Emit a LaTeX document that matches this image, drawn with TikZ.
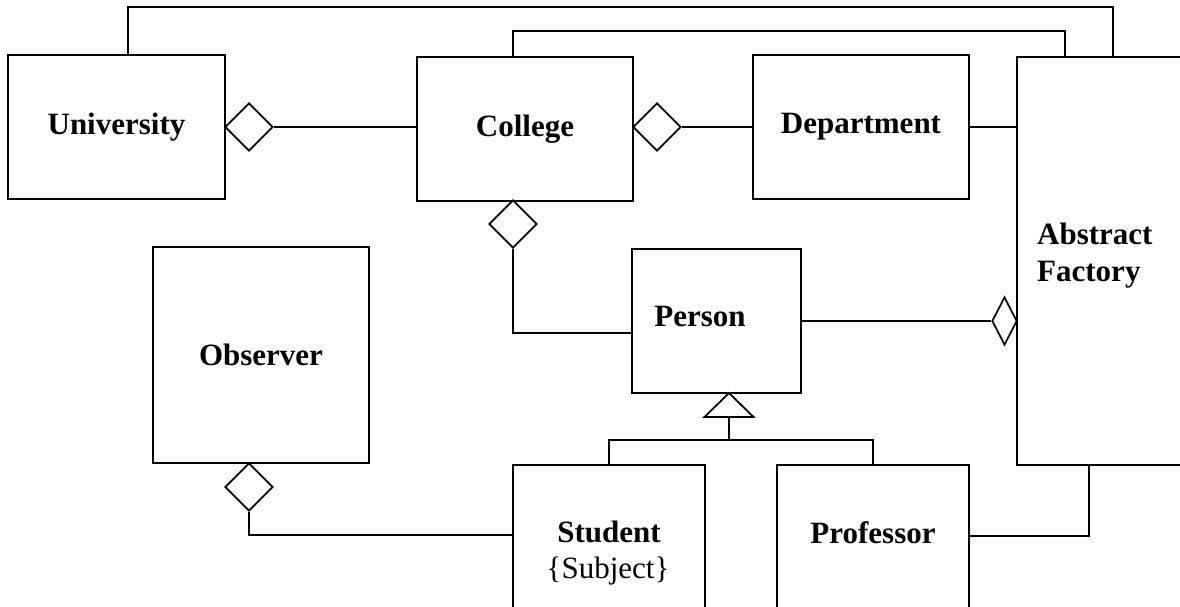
\documentclass[tikz,border=0pt]{standalone}
\usepackage{fontspec}
\setmainfont{Liberation Serif}
\usetikzlibrary{shapes.geometric}
\tikzset{
  cls/.style={draw, line width=2pt, rectangle, inner sep=0pt, fill=white,
    font=\fontsize{31}{37}\selectfont\bfseries},
  agg/.style={draw, line width=1.7pt, diamond, inner sep=0pt, fill=white,
    minimum width=48pt, minimum height=48pt},
  conn/.style={line width=1.8pt},
  lbl/.style={inner sep=0pt, anchor=base, font=\fontsize{31}{37}\selectfont\bfseries},
}
\begin{document}
\begin{tikzpicture}[x=1pt,y=-1pt]
\useasboundingbox (0,0) rectangle (1180,607);
\clip (0,0) rectangle (1180,607);
% classes
\node[cls, minimum width=217pt, minimum height=144pt] (University) at (116.5,127) {University};
\node[cls, minimum width=216pt, minimum height=144pt] (College) at (525,129) {College};
\node[cls, minimum width=216pt, minimum height=144pt] (Department) at (861,127) {Department};
\node[cls, minimum width=183pt, minimum height=408pt] (AF) at (1108.5,261) {};
\node[cls, minimum width=169pt, minimum height=144pt] (Person) at (716.5,321) {};
\node[cls, minimum width=216pt, minimum height=216pt] (Observer) at (261,355) {Observer};
\node[cls, minimum width=192pt, minimum height=185pt] (Student) at (609,557.5) {};
\node[cls, minimum width=192pt, minimum height=185pt] (Professor) at (873,557.5) {};
% labels placed off-centre
\node[lbl] (tPerson) at (700,326) {Person};
\node[lbl, anchor=base west] (tAbs) at (1037,244) {Abstract};
\node[lbl, anchor=base west] (tFac) at (1037,281) {Factory};
\node[lbl] (tStu) at (609,542) {Student};
\node[lbl, font=\fontsize{31}{37}\selectfont] (tSub) at (608,578) {\{Subject\}};
\node[lbl] (tProf) at (873,543) {Professor};
% helper coordinates
\coordinate (tU) at (128,7);
\coordinate (tAF) at (1113,7);
\coordinate (tC) at (513,31);
\coordinate (tC2) at (1065,31);
\coordinate (gb) at (729,440);
\coordinate (pa) at (1089,465);
% long connectors over the top
\draw[conn] (University.north -| tU) -- (tU) -- (tAF) -- (AF.north -| tAF);
\draw[conn] (College.north -| tC) -- (tC) -- (tC2) -- (AF.north -| tC2);
% aggregations
\node[agg] (d1) at (249,127) {};
\node[agg] (d2) at (657,127) {};
\node[agg] (d3) at (513,224) {};
\node[agg, minimum width=25pt] (d4) at (1004.5,321) {};
\node[agg] (d5) at (249,487) {};
\draw[conn] (d1.east) -- (d1.east -| College.west);
\draw[conn] (d2.east) -- (d2.east -| Department.west);
\draw[conn] (Department.east) -- (Department.east -| AF.west);
\draw[conn] (d3.south) |- ([yshift=-12pt]Person.west);
\draw[conn] (Person.east) -- (d4.west);
\draw[conn] (d5.south) |- ([yshift=22.5pt]Student.west);
\draw[conn] ([yshift=21.5pt]Professor.east) -| (pa);
% generalization
\coordinate (triTop) at (729,393);
\draw[conn, line join=miter] (triTop) -- ++(-24.5,24) -- ++(49,0) -- cycle;
\draw[conn] (729,417) -- (gb);
\draw[conn] (Student.north) |- (gb) -| (Professor.north);
\end{tikzpicture}
\end{document}
